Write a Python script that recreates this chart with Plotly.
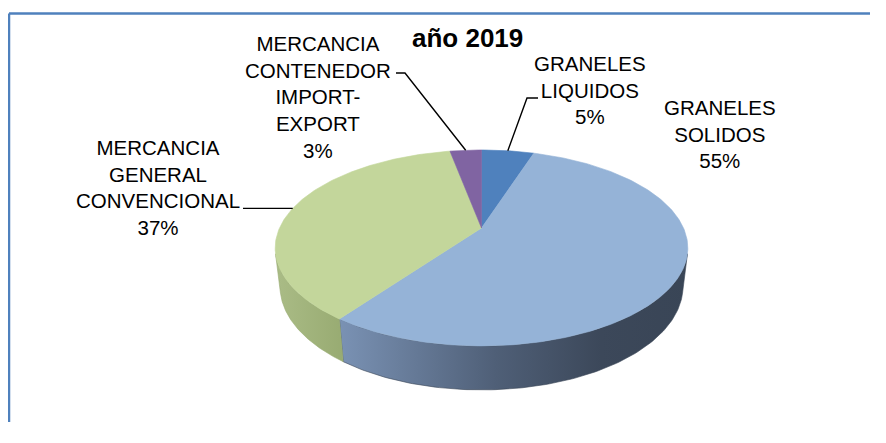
import numpy as np
import plotly.graph_objects as go

# ---------------- data ----------------
categories = ["GRANELES LIQUIDOS", "GRANELES SOLIDOS",
              "MERCANCIA GENERAL CONVENCIONAL", "MERCANCIA CONTENEDOR IMPORT-EXPORT"]
label_lines = ["GRANELES<br>LIQUIDOS", "GRANELES<br>SOLIDOS",
               "MERCANCIA<br>GENERAL<br>CONVENCIONAL", "MERCANCIA<br>CONTENEDOR<br>IMPORT-<br>EXPORT"]
values = [5, 55, 37, 3]
title_text = "año 2019"

# ---------------- style ----------------
top_colors = ["#4F81BD", "#95B3D7", "#C3D69B", "#8064A2"]
wall_scales = [
    [[0, "#3f6a9e"], [1, "#2f5280"]],
    [[0, "#7a92b4"], [0.45, "#4f5f77"], [0.75, "#3c485a"], [1, "#394556"]],
    [[0, "#aabc86"], [1, "#98ab72"]],
    [[0, "#6a5288"], [1, "#56426f"]],
]
FONT = "Liberation Sans, Arial, sans-serif"
FSIZE = 20.5
PAGE_W, PAGE_H = 886, 443
OFF = 8  # default body margin of the html page
W, Hpx = 862, 414

# 3D pie geometry (page pixels / unit radius)
CX, CY, K = 481.5, 228.0, 202.0
PHI = np.radians(27.7)
CP, SP = np.cos(PHI), np.sin(PHI)
DIST = 4.35
THICK = 0.217


def proj(X, Y, Z):
    u = Y * CP + Z * SP
    t = Y * SP - Z * CP
    s = DIST / (DIST - t)
    return CX + K * X * s, CY - K * u * s


def proj_theta(theta, Y):
    return proj(np.sin(theta), Y, np.cos(theta))


vals = np.array(values, dtype=float)
frac = vals / vals.sum()
ends = 2 * np.pi * np.cumsum(frac)
starts = ends - 2 * np.pi * frac
mids = (starts + ends) / 2

fig = go.Figure()

th_s = np.arccos(-1.0 / (DIST * CP))
for i in range(len(values)):
    lo = max(starts[i], th_s)
    hi = min(ends[i], 2 * np.pi - th_s)
    if hi <= lo:
        continue
    th = np.linspace(lo, hi, 120)
    xt, yt = proj_theta(th, 0.0)
    xb, yb = proj_theta(th[::-1], -THICK)
    xs = np.concatenate([xt, xb, xt[:1]])
    ys = np.concatenate([yt, yb, yt[:1]])
    fig.add_trace(go.Scatter(
        x=xs, y=ys, mode="lines", fill="toself",
        fillgradient=dict(type="horizontal", colorscale=wall_scales[i]),
        line=dict(width=0.6, color=wall_scales[i][-1][1]),
        hoverinfo="skip", showlegend=False))

for i in range(len(values)):
    th = np.linspace(starts[i], ends[i], max(8, int(400 * frac[i])))
    xa, ya = proj_theta(th, 0.0)
    xs = np.concatenate([[CX], xa, [CX]])
    ys = np.concatenate([[CY], ya, [CY]])
    fig.add_trace(go.Scatter(
        x=xs, y=ys, mode="lines", fill="toself", fillcolor=top_colors[i],
        line=dict(width=0.6, color=top_colors[i]),
        name=categories[i], hoverinfo="name", showlegend=False))

pct = [f"{round(f * 100):.0f}%" for f in frac]
label_pos = [(590, 90), (720, 134), (158, 187), (318, 97)]
elbows = [[(538, 98), (527, 98)], None, [(243, None)], [(396, 73), (405, 73)]]

for i in range(len(values)):
    lx, ly = label_pos[i]
    fig.add_annotation(x=lx, y=ly, xref="x", yref="y",
                       text=f"{label_lines[i]}<br>{pct[i]}", showarrow=False,
                       font=dict(family=FONT, size=FSIZE, color="#000000"),
                       align="center", xanchor="center", yanchor="middle")
    if elbows[i] is not None:
        ax, ay = proj_theta(mids[i], 0.0)
        px = [p[0] for p in elbows[i]] + [ax]
        py = [(p[1] if p[1] is not None else ay) for p in elbows[i]] + [ay]
        fig.add_trace(go.Scatter(x=px, y=py, mode="lines",
                                 line=dict(color="#000000", width=1.4),
                                 hoverinfo="skip", showlegend=False))

fig.add_annotation(x=467, y=38, xref="x", yref="y", text=f"<b>{title_text}</b>",
                   showarrow=False, font=dict(family=FONT, size=26, color="#000000"),
                   xanchor="center", yanchor="middle")

fig.add_shape(type="line", xref="x", yref="y", x0=9, x1=9, y0=13.5, y1=PAGE_H + 20,
              line=dict(color="#4F81BD", width=2.5))
fig.add_shape(type="line", xref="x", yref="y", x0=9, x1=PAGE_W + 20, y0=13.5, y1=13.5,
              line=dict(color="#4F81BD", width=2.5))

fig.update_layout(
    width=W, height=Hpx, margin=dict(l=0, r=0, t=0, b=0),
    paper_bgcolor="white", plot_bgcolor="white",
    xaxis=dict(range=[OFF, OFF + W], visible=False, fixedrange=True),
    yaxis=dict(range=[OFF + Hpx, OFF], visible=False, fixedrange=True),
    showlegend=False,
)

fig.write_html("out.html")
